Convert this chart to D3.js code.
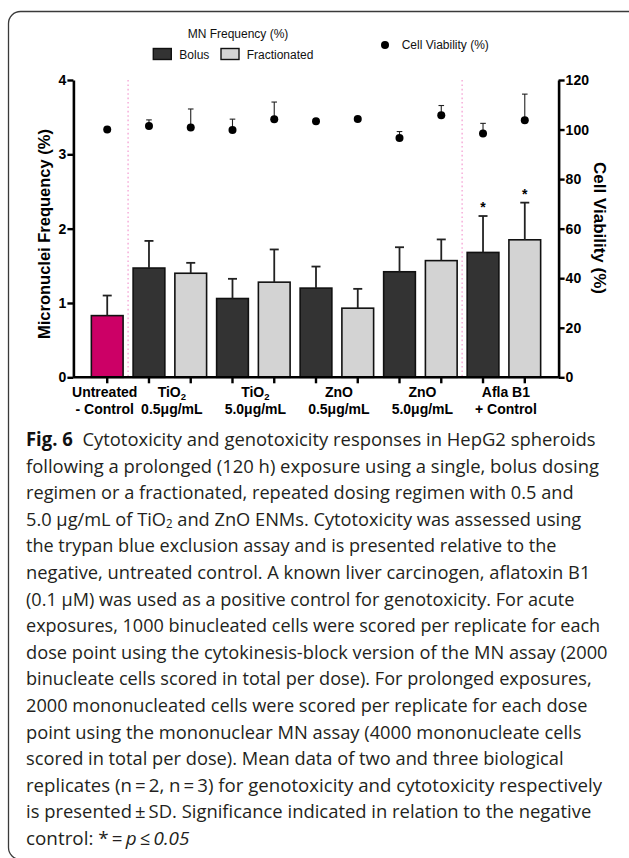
<!DOCTYPE html>
<html><head><meta charset="utf-8">
<script src="https://cdn.jsdelivr.net/npm/d3@7"></script>
<style>
html,body{margin:0;padding:0;background:#fff;}
svg{display:block;}
</style>
</head>
<body>
<svg id="chart" width="629" height="858"></svg>
<script>
// ---------- data ----------
const barNames = ["Untreated - Control","TiO2 0.5 Bolus","TiO2 0.5 Fractionated","TiO2 5.0 Bolus","TiO2 5.0 Fractionated","ZnO 0.5 Bolus","ZnO 0.5 Fractionated","ZnO 5.0 Bolus","ZnO 5.0 Fractionated","Afla B1 Bolus","Afla B1 Fractionated"];
const barType = ["control","bolus","fractionated","bolus","fractionated","bolus","fractionated","bolus","fractionated","bolus","fractionated"];
const mnMean = [0.83,1.47,1.40,1.06,1.28,1.20,0.93,1.42,1.57,1.68,1.85];
const mnSD   = [0.27,0.365,0.14,0.265,0.44,0.29,0.26,0.33,0.285,0.49,0.50];
const viabMean = [100,101.4,100.8,99.8,104.2,103.4,104.3,96.6,105.8,98.4,103.8];
const viabSD   = [0,2.5,7.5,4.4,6.9,0,0,2.6,3.9,4.1,10.5];
const significant = [false,false,false,false,false,false,false,false,false,true,true];
const groupLine1 = ["Untreated","TiO2","TiO2","ZnO","ZnO","Afla B1"];
const groupLine2 = ["- Control","0.5μg/mL","5.0μg/mL","0.5μg/mL","5.0μg/mL","+ Control"];
const groupFirst = [0,1,3,5,7,9];
const groupLast  = [0,2,4,6,8,10];
const leftTicks = [0,1,2,3,4];
const rightTicks = [0,20,40,60,80,100,120];
const dividerAfter = [0,8];
const legendTitle = "MN Frequency (%)";
const legendBars = ["Bolus","Fractionated"];
const legendDot = "Cell Viability (%)";
const captionLines = [
  [{t:"Fig. 6",b:1},{t:"Cytotoxicity and genotoxicity responses in HepG2 spheroids",dx:10}],
  [{t:"following a prolonged (120 h) exposure using a single, bolus dosing"}],
  [{t:"regimen or a fractionated, repeated dosing regimen with 0.5 and"}],
  [{t:"5.0 µg/mL of TiO"},{t:"2",sub:1},{t:" and ZnO ENMs. Cytotoxicity was assessed using"}],
  [{t:"the trypan blue exclusion assay and is presented relative to the"}],
  [{t:"negative, untreated control. A known liver carcinogen, aflatoxin B1"}],
  [{t:"(0.1 µM) was used as a positive control for genotoxicity. For acute"}],
  [{t:"exposures, 1000 binucleated cells were scored per replicate for each"}],
  [{t:"dose point using the cytokinesis-block version of the MN assay (2000"}],
  [{t:"binucleate cells scored in total per dose). For prolonged exposures,"}],
  [{t:"2000 mononucleated cells were scored per replicate for each dose"}],
  [{t:"point using the mononuclear MN assay (4000 mononucleate cells"}],
  [{t:"scored in total per dose). Mean data of two and three biological"}],
  [{t:"replicates (n\u2009=\u20092, n\u2009=\u20093) for genotoxicity and cytotoxicity respectively"}],
  [{t:"is presented\u2009±\u2009SD. Significance indicated in relation to the negative"}],
  [{t:"control: *\u2009=\u2009"},{t:"p\u2009≤\u20090.05",i:1}]
];
const captionRight = [596,599,574,581.7,556.7,590.7,575,600.7,608.3,591.7,587.7,581.7,564,602.7,591.7,190];

// ---------- setup ----------
const svg = d3.select("#chart");
const colors = {control:"#cc0066", bolus:"#333333", fractionated:"#d3d3d3"};
const AX = "Liberation Sans, Arial, Helvetica, sans-serif";

// frame
svg.append("rect").attr("x",8.5).attr("y",11.5).attr("width",640).attr("height",848)
  .attr("rx",12).attr("fill","none").attr("stroke","#3a3a3a").attr("stroke-width",1.3);

const pLeft = 73.4, pRight = 558.6, pTop = 80, pBottom = 377.3;
const x = d3.scaleBand().domain(d3.range(barNames.length)).range([pLeft,pRight])
  .paddingInner(0.24).paddingOuter(0.43);
const yL = d3.scaleLinear().domain([0,4]).range([pBottom,pTop]);
const yR = d3.scaleLinear().domain([0,120]).range([pBottom,pTop]);
const bw = x.bandwidth();
const cx = i => x(i) + bw/2;

// pink dotted dividers
dividerAfter.forEach(i=>{
  const xx = (x(i)+bw + x(i+1))/2;
  svg.append("line").attr("x1",xx).attr("x2",xx).attr("y1",pTop).attr("y2",pBottom)
    .attr("stroke","#f7b3dc").attr("stroke-width",1.6).attr("stroke-dasharray","1.6,2.8");
});

// bars
svg.append("g").selectAll("rect").data(mnMean).join("rect")
  .attr("x",(d,i)=>x(i)).attr("width",bw)
  .attr("y",d=>yL(d)).attr("height",d=>pBottom-yL(d))
  .attr("fill",(d,i)=>colors[barType[i]])
  .attr("stroke","#111").attr("stroke-width",1.6);

// MN error bars (upper)
const eb = svg.append("g").attr("stroke","#222").attr("stroke-width",1.8);
mnMean.forEach((m,i)=>{
  const c = cx(i);
  eb.append("line").attr("x1",c).attr("x2",c).attr("y1",yL(m)).attr("y2",yL(m+mnSD[i]));
  eb.append("line").attr("x1",c-4.5).attr("x2",c+4.5).attr("y1",yL(m+mnSD[i])).attr("y2",yL(m+mnSD[i]));
});

// significance stars
mnMean.forEach((m,i)=>{
  if (!significant[i]) return;
  svg.append("text").attr("x",cx(i)).attr("y",yL(m+mnSD[i])-4)
    .attr("text-anchor","middle").attr("font-family",AX).attr("font-weight","bold")
    .attr("font-size",14).text("*");
});

// viability error bars & dots
const vb = svg.append("g").attr("stroke","#222").attr("stroke-width",1.1);
viabMean.forEach((v,i)=>{
  if (viabSD[i] <= 0) return;
  const c = cx(i);
  vb.append("line").attr("x1",c).attr("x2",c).attr("y1",yR(v)).attr("y2",yR(v+viabSD[i]));
  vb.append("line").attr("x1",c-2.8).attr("x2",c+2.8).attr("y1",yR(v+viabSD[i])).attr("y2",yR(v+viabSD[i]));
});
svg.append("g").selectAll("circle").data(viabMean).join("circle")
  .attr("cx",(d,i)=>cx(i)).attr("cy",d=>yR(d)).attr("r",4).attr("fill","#000");

// axes
function styleAxis(g){
  g.select(".domain").attr("stroke","#000").attr("stroke-width",2.6);
  g.selectAll(".tick line").attr("stroke","#000").attr("stroke-width",2.4);
  g.selectAll(".tick text").attr("fill","#000").attr("font-family",AX)
    .attr("font-weight","bold").attr("font-size",14);
}
svg.append("g").attr("transform",`translate(${pLeft},0)`)
  .call(d3.axisLeft(yL).tickValues(leftTicks).tickFormat(d3.format("d")).tickSize(6).tickSizeOuter(0).tickPadding(1))
  .call(styleAxis);
svg.append("g").attr("transform",`translate(${pRight},0)`)
  .call(d3.axisRight(yR).tickValues(rightTicks).tickFormat(d3.format("d")).tickSize(6).tickSizeOuter(0).tickPadding(1))
  .call(styleAxis);
const xAxis = svg.append("g").attr("transform",`translate(0,${pBottom})`)
  .call(d3.axisBottom(x).tickFormat("").tickSize(6).tickSizeOuter(0))
  .call(styleAxis);
xAxis.select(".domain").attr("d",`M${pLeft},0H${pRight}`);

// group labels
groupLine1.forEach((l1,g)=>{
  const c = (cx(groupFirst[g]) + cx(groupLast[g]))/2 + (g===0 ? -2.5 : 2);
  const t1 = svg.append("text").attr("x",c).attr("y",397).attr("text-anchor","middle")
    .attr("font-family",AX).attr("font-weight","bold").attr("font-size",14);
  if (l1.startsWith("TiO2")) {
    t1.append("tspan").text("TiO");
    t1.append("tspan").attr("font-size",9.5).attr("dy",2.6).text("2");
  } else t1.text(l1);
  svg.append("text").attr("x",c).attr("y",414.3).attr("text-anchor","middle")
    .attr("font-family",AX).attr("font-weight","bold").attr("font-size",14).text(groupLine2[g]);
});

// axis titles
svg.append("text").attr("transform",`translate(44,234) rotate(-90)`)
  .attr("text-anchor","middle").attr("dominant-baseline","central")
  .attr("font-family",AX).attr("font-weight","bold").attr("font-size",16.5)
  .text("Micronuclei Frequency (%)");
svg.append("text").attr("transform",`translate(599,228) rotate(90)`)
  .attr("text-anchor","middle").attr("dominant-baseline","central")
  .attr("font-family",AX).attr("font-weight","bold").attr("font-size",17)
  .text("Cell Viability (%)");

// legend
const lg = svg.append("g").attr("font-family",AX).attr("font-size",12).attr("fill","#111");
lg.append("text").attr("x",238).attr("y",37.5).attr("text-anchor","middle").text(legendTitle);
const swX = [153.3,221], txX = [179.3,246.7];
legendBars.forEach((name,k)=>{
  lg.append("rect").attr("x",swX[k]).attr("y",48.5).attr("width",18).attr("height",11)
    .attr("fill",colors[k===0?"bolus":"fractionated"]).attr("stroke","#111").attr("stroke-width",1.4);
  lg.append("text").attr("x",txX[k]).attr("y",58.5).text(name);
});
lg.append("circle").attr("cx",385).attr("cy",45).attr("r",4).attr("fill","#000");
lg.append("text").attr("x",401.7).attr("y",49).text(legendDot);

// caption
const capG = svg.append("g").attr("font-family","Open Sans, Noto Sans, sans-serif").attr("font-size",19).attr("fill","#231f20");
captionLines.forEach((segs,li)=>{
  const base = 446 + li*26.6;
  const t = capG.append("text").attr("x",0).attr("y",0);
  segs.forEach((s,si)=>{
    const ts = t.append("tspan").text(s.t);
    if (s.b) ts.attr("font-weight","bold").attr("fill","#111");
    if (s.i) ts.attr("font-style","italic");
    if (s.dx) ts.attr("dx",s.dx);
    if (s.sub) ts.attr("font-size",12).attr("dy",2.5);
    if (!s.sub && si>0 && segs[si-1].sub) ts.attr("dy",-2.5);
  });
  const w = t.node().getBBox().width;
  const target = captionRight[li] - 26;
  t.attr("transform",`translate(26,${base}) scale(${target/w},1)`);
});
</script>
</body></html>
